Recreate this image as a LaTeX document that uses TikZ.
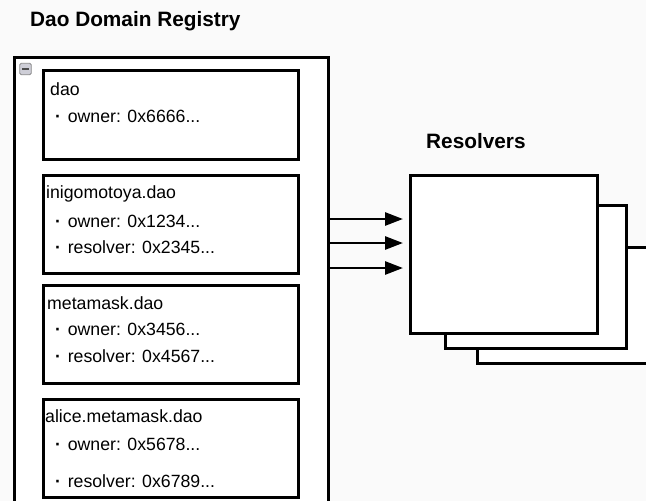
\documentclass[tikz,border=0pt]{standalone}
\usepackage{fontspec}
\setmainfont{Liberation Sans}
\usetikzlibrary {arrows.meta}

\begin{document}
\begin{tikzpicture}[x=1pt, y=-1pt,
        box/.style = {draw, line width=2.6pt, fill=white, anchor=north west, inner sep=0pt},
        field/.style = {anchor=base west, inner sep=0pt, font=\fontsize{17.7}{20}\selectfont},
        heading/.style = {anchor=base west, inner sep=0pt, font=\fontsize{20.8}{24}\selectfont\bfseries},
        link/.style = {line width=2.7pt, -{Triangle[length=18pt, width=13pt]}}]
        %fix the page and clip everything that runs off it
        \useasboundingbox (0,0) rectangle (646,501);
        \clip (0,0) rectangle (646,501);
        \fill[black!2] (0,0) rectangle (646,501);

        %the registry with its entries
        \node[heading] (regtitle) at (30,26.5) {Dao Domain Registry};
        \node[box, line width=2.8pt, minimum width=314pt, minimum height=480pt] (registry) at (13,56) {};
        \node[draw=black!45, fill=blue!10!gray!35, rounded corners=1.5pt, line width=0.8pt,
              minimum width=11.5pt, minimum height=11.5pt, inner sep=0pt] (collapse) at (25.5,69) {};
        \draw[line width=1.4pt, black!70] ([xshift=-3.5pt]collapse.center) -- ([xshift=3.5pt]collapse.center);

        \node[box, minimum width=255pt, minimum height=89pt] (dao) at (42,69) {};
        \node[field] (daoname) at (50,95) {dao};
        \node[field] (daoowner) at (55,122) {\textbf{·}\hspace{.38em}owner: 0x6666...};

        \node[box, minimum width=255pt, minimum height=98pt] (inigo) at (42,174) {};
        \node[field] (inigoname) at (46,198) {inigomotoya.dao};
        \node[field] (inigoowner) at (55,227) {\textbf{·}\hspace{.38em}owner: 0x1234...};
        \node[field] (inigoresolver) at (55,253) {\textbf{·}\hspace{.38em}resolver: 0x2345...};

        \node[box, minimum width=255pt, minimum height=98pt] (metamask) at (42,284) {};
        \node[field] (metamaskname) at (47,309) {metamask.dao};
        \node[field] (metamaskowner) at (55,335) {\textbf{·}\hspace{.38em}owner: 0x3456...};
        \node[field] (metamaskresolver) at (55,362) {\textbf{·}\hspace{.38em}resolver: 0x4567...};

        \node[box, minimum width=255pt, minimum height=98pt] (alice) at (42,398) {};
        \node[field] (alicename) at (45,422) {alice.metamask.dao};
        \node[field] (aliceowner) at (55,450) {\textbf{·}\hspace{.38em}owner: 0x5678...};
        \node[field] (aliceresolver) at (55,487) {\textbf{·}\hspace{.38em}resolver: 0x6789...};

        %the stack of resolvers, back to front
        \node[heading] (restitle) at (426,148) {Resolvers};
        \node[box, minimum width=204pt, minimum height=116pt] (resolverC) at (476,246) {};
        \node[box, minimum width=181pt, minimum height=143pt] (resolverB) at (444,204) {};
        \node[box, minimum width=187pt, minimum height=158pt] (resolverA) at (409,174) {};

        %arrows from the registry to the resolvers
        \coordinate (tipA) at (403,219);
        \coordinate (tipB) at (403,243);
        \coordinate (tipC) at (403,268);
        \draw[link] (registry.east |- tipA) -- (tipA);
        \draw[link] (registry.east |- tipB) -- (tipB);
        \draw[link] (registry.east |- tipC) -- (tipC);
    \end{tikzpicture}
\end{document}
